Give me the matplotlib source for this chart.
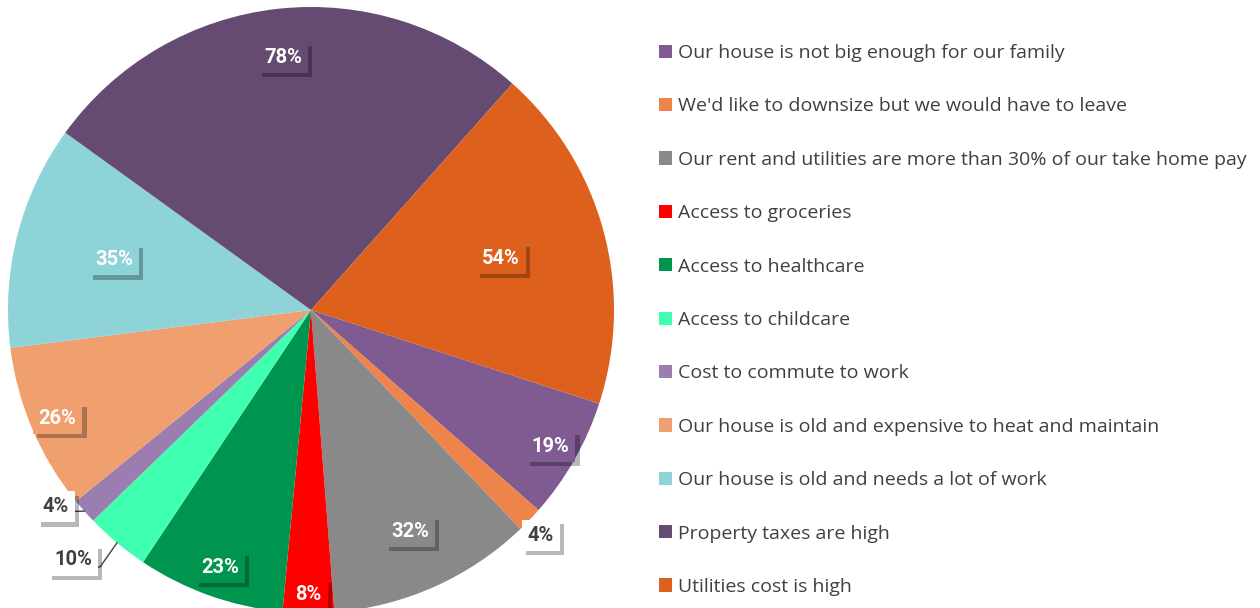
import numpy as np
import matplotlib
import matplotlib.pyplot as plt
import matplotlib.patheffects as pe
from matplotlib import font_manager

matplotlib.use('agg')

labels = [
    'Our house is not big enough for our family',
    "We'd like to downsize but we would have to leave",
    'Our rent and utilities are more than 30% of our take home pay',
    'Access to groceries',
    'Access to healthcare',
    'Access to childcare',
    'Cost to commute to work',
    'Our house is old and expensive to heat and maintain',
    'Our house is old and needs a lot of work',
    'Property taxes are high',
    'Utilities cost is high',
]
values = [19, 4, 32, 8, 23, 10, 4, 26, 35, 78, 54]
colors = ['#7F5B91', '#EE8449', '#898989', '#FF0000', '#00954F', '#40FFB0',
          '#9B7DB0', '#EFA06E', '#8DD3D7', '#654A71', '#DD611C']

# radial position of each percentage label (fraction of radius)
label_r = [0.91, None, 0.80, 0.94, 0.90, None, None, 0.91, 0.67, 0.84, 0.65]
# labels pushed outside the pie, given in axes data units
outside = {1: (0.759, -0.743), 5: (-0.785, -0.825), 6: (-0.842, -0.650)}

names = {f.name for f in font_manager.fontManager.ttflist}
narrow = 'Liberation Sans Narrow' if 'Liberation Sans Narrow' in names else 'Roboto'

W, H = 1260, 608
fig = plt.figure(figsize=(W / 100, H / 100), dpi=100)
R = 303
cx, cy = 311, 310
ax = fig.add_axes([(cx - R) / W, (H - cy - R) / H, 2 * R / W, 2 * R / H])

wedges, _ = ax.pie(values, colors=colors, startangle=-18, counterclock=False,
                   radius=1, wedgeprops=dict(linewidth=0))
ax.set_xlim(-1, 1)
ax.set_ylim(-1, 1)
ax.set_aspect('equal')
ax.axis('off')

shadow = [pe.withSimplePatchShadow(offset=(3, -3), shadow_rgbFace='black', alpha=0.28)]
lab_font = dict(family=[narrow, 'DejaVu Sans'], weight='bold', size=14.5)

for i, w in enumerate(wedges):
    mid = np.deg2rad((w.theta1 + w.theta2) / 2)
    txt = f'{values[i]}%'
    if i in outside:
        x, y = outside[i]
        t = ax.text(x, y, txt, ha='center', va='center', color='#404040',
                    bbox=dict(boxstyle='square,pad=0.3', fc='white', ec='none'),
                    **lab_font)
        t.get_bbox_patch().set_path_effects(shadow)
        ex, ey = np.cos(mid), np.sin(mid)
        if i == 5:
            ax.plot([x + 0.063, x + 0.089, ex], [y - 0.023, y - 0.023, ey],
                    color='#404040', lw=1, clip_on=False)
        elif i == 6:
            ax.plot([x + 0.048, ex], [y - 0.015, ey], color='#404040', lw=1,
                    clip_on=False)
    else:
        r = label_r[i]
        t = ax.text(r * np.cos(mid), r * np.sin(mid), txt, ha='center', va='center',
                    color='white', bbox=dict(boxstyle='square,pad=0.3',
                                             fc=colors[i], ec='none'),
                    **lab_font)
        t.get_bbox_patch().set_path_effects(shadow)

leg = fig.legend(wedges, labels, loc='upper left', bbox_to_anchor=(659 / W, 1 - 44 / H),
                 frameon=False, handlelength=0.67, handleheight=0.67,
                 handletextpad=0.31, labelspacing=1.82, borderpad=0, borderaxespad=0,
                 prop=dict(family='Open Sans', size=14))
for t in leg.get_texts():
    t.set_color('#404040')

fig.savefig('out.png', dpi=100)
